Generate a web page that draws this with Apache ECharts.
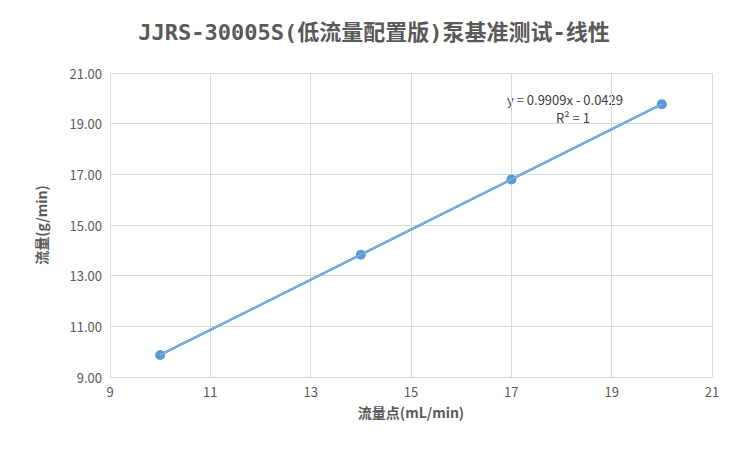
<!DOCTYPE html>
<html><head><meta charset="utf-8">
<script src="https://cdn.jsdelivr.net/npm/echarts@6/dist/echarts.min.js"></script>
<style>html,body{margin:0;padding:0;background:#fff}#c{width:748px;height:458px}</style>
</head><body><div id="c"></div>
<script>
var xValues = [10, 14, 17, 20];
var yValues = [9.87, 13.83, 16.80, 19.77];
var slope = 0.9909, intercept = -0.0429;
var trendX = [10, 20];

var font = '"Noto Sans CJK SC", "Microsoft YaHei", sans-serif';
var blue = '#5B9BD5';
var chart = echarts.init(document.getElementById('c'), null, { renderer: 'svg' });
chart.setOption({
  animation: false,
  title: {
    text: 'JJRS-30005S(低流量配置版)泵基准测试-线性',
    left: 'center', top: 16,
    textStyle: { fontFamily: '"DejaVu Sans Mono", ' + font, fontSize: 22, fontWeight: 'bold', color: '#595959' }
  },
  grid: { left: 110, right: 36, top: 73, bottom: 81 },
  xAxis: {
    type: 'value', min: 9, max: 21, interval: 2,
    name: '流量点(mL/min)', nameLocation: 'middle', nameGap: 28,
    nameTextStyle: { fontFamily: font, fontSize: 14, fontWeight: 'bold', color: '#595959' },
    axisLine: { lineStyle: { color: '#d9d9d9' } },
    axisTick: { show: false },
    axisLabel: { color: '#595959', fontSize: 13, fontFamily: font },
    splitLine: { lineStyle: { color: '#d9d9d9' } }
  },
  yAxis: {
    type: 'value', min: 9, max: 21, interval: 2,
    name: '流量(g/min)', nameLocation: 'middle', nameGap: 62, nameRotate: 90,
    nameTextStyle: { fontFamily: font, fontSize: 14, fontWeight: 'bold', color: '#595959' },
    axisLine: { show: true, lineStyle: { color: '#d9d9d9' } },
    axisTick: { show: false },
    axisLabel: { color: '#595959', fontSize: 13, fontFamily: font, formatter: function (v) { return v.toFixed(2); } },
    splitLine: { lineStyle: { color: '#d9d9d9' } }
  },
  series: [
    {
      type: 'line', data: xValues.map(function (x, i) { return [x, yValues[i]]; }),
      symbol: 'circle', symbolSize: 10,
      lineStyle: { color: blue, width: 2.5 }, itemStyle: { color: blue }, z: 2
    },
    {
      type: 'line', data: trendX.map(function (x) { return [x, slope * x + intercept]; }),
      symbol: 'none', lineStyle: { color: '#bdd7ee', width: 1, type: 'dotted' }, z: 3
    }
  ],
  graphic: [
    { type: 'text', left: 507, top: 93, style: { text: 'y = 0.9909x - 0.0429', fill: '#404040', font: '13px ' + font } },
    { type: 'text', left: 556, top: 111, style: { text: 'R² = 1', fill: '#404040', font: '13px ' + font } }
  ]
});
</script></body></html>
